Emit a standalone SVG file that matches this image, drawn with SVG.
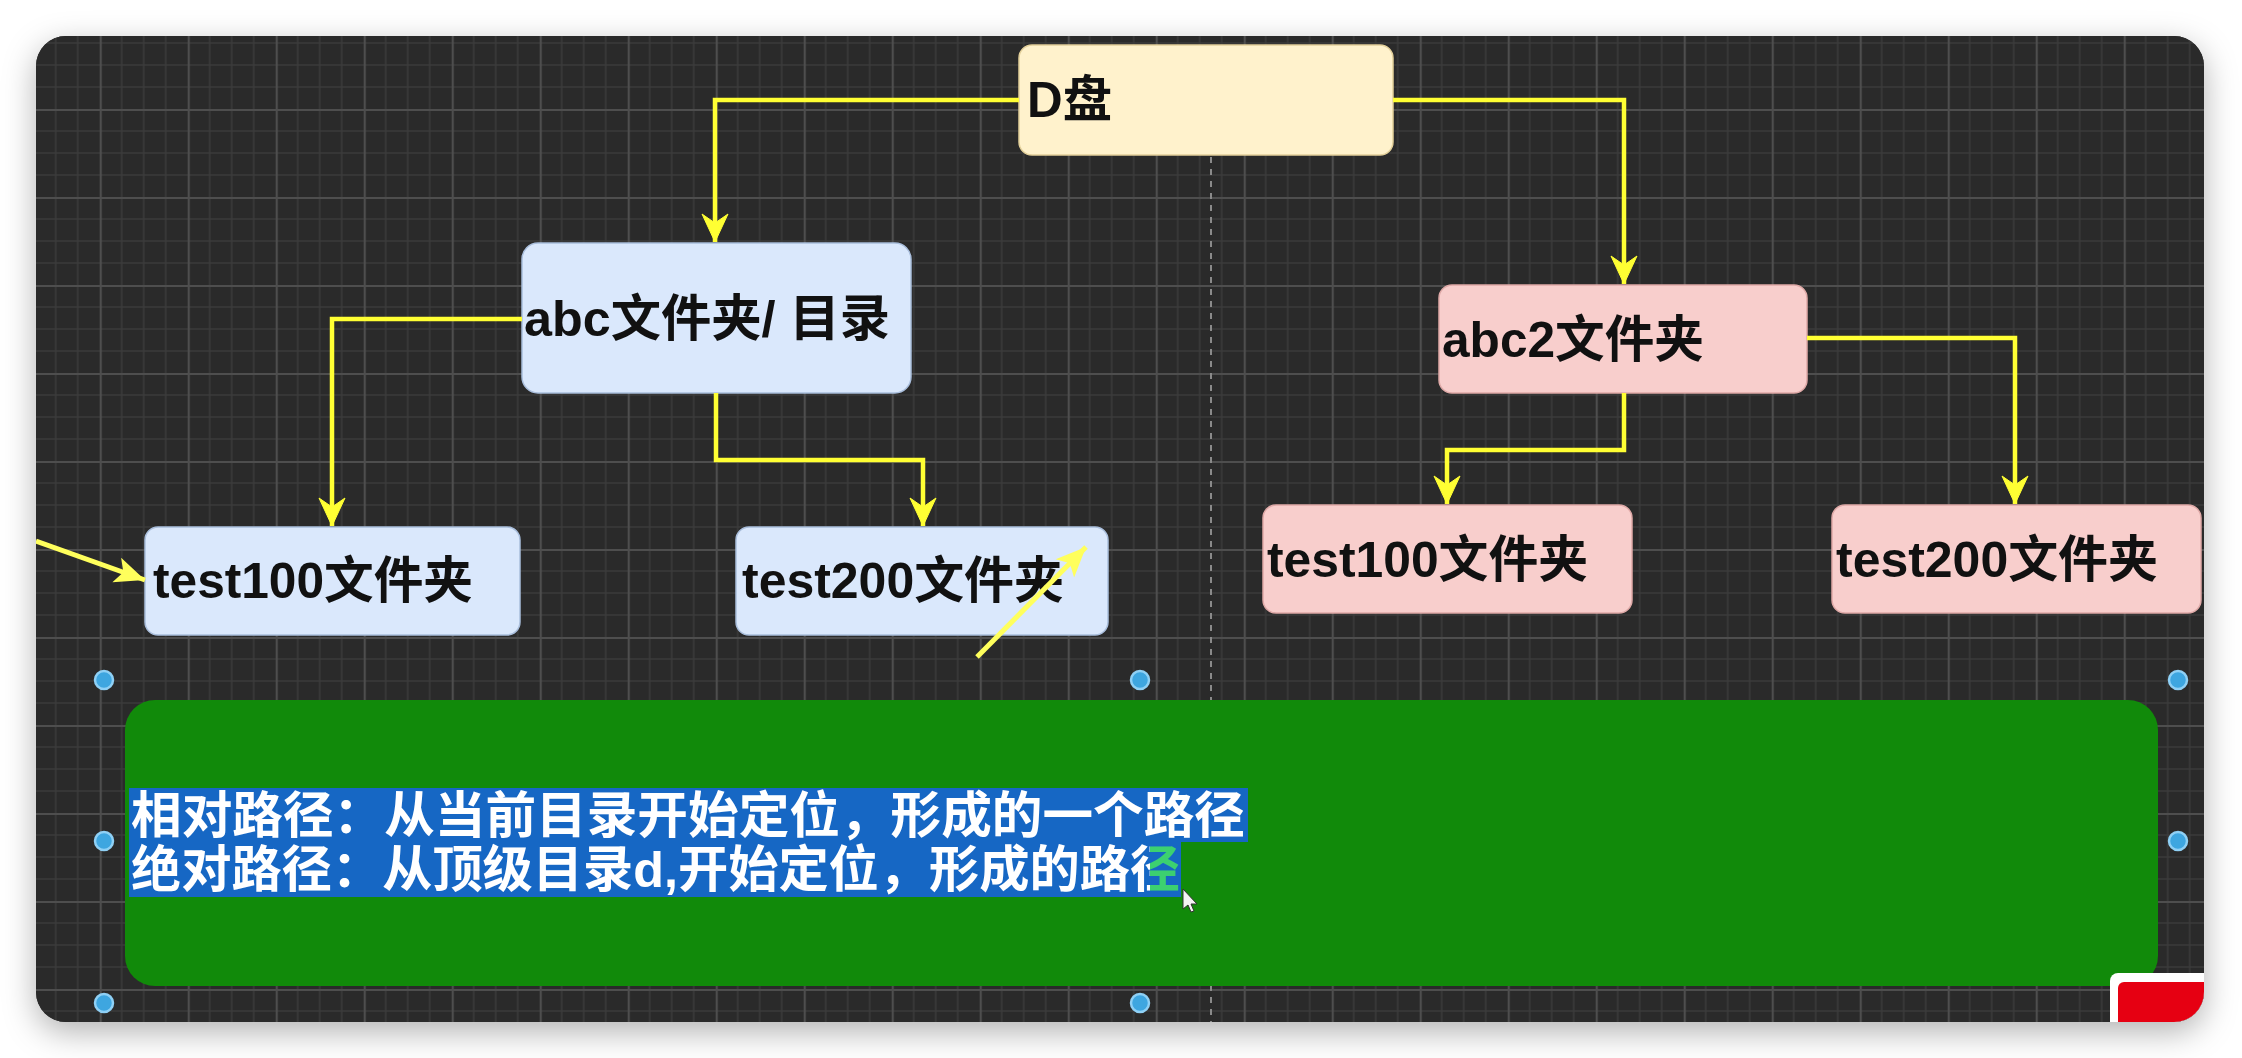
<svg xmlns="http://www.w3.org/2000/svg" width="2242" height="1058" viewBox="0 0 2242 1058">
<defs>
<style>
.node text{font-family:"Liberation Sans","Noto Sans CJK SC",sans-serif;font-weight:700;font-size:50px;fill:#111}
.blue rect{fill:#dae8fc;stroke:#a9bedc;stroke-width:1.5}
.pink rect{fill:#f8cecc;stroke:#dfa9a7;stroke-width:1.5}
.yellow rect{fill:#fff2cc;stroke:#e3d09a;stroke-width:1.5}
.edge{fill:none;stroke:#ffff33;stroke-width:4.5;marker-end:url(#arr)}
.stray{fill:none;stroke:#ffff5c;stroke-width:5;marker-end:url(#arr2)}
.line{font-family:"Liberation Sans","Noto Sans CJK SC",sans-serif;font-weight:700;font-size:50px;fill:#fff}
.hl{fill:#1667c4}
.handle{fill:#3ea6e0;stroke:#8fd0f5;stroke-width:2.5}
</style>
<pattern id="grid" patternUnits="userSpaceOnUse" x="11.7" y="21" width="88" height="88">
<rect width="88" height="88" fill="#2a2a2a"/>
<path d="M22 0V88M44 0V88M66 0V88M0 22H88M0 44H88M0 66H88" stroke="#3a3a3a" stroke-width="1.6"/>
<path d="M1 0V88M0 1H88" stroke="#4e4e4e" stroke-width="2.2"/>
</pattern>
<clipPath id="win"><rect x="36" y="36" width="2168" height="986" rx="30"/></clipPath>
<filter id="shadow" x="-5%" y="-10%" width="110%" height="125%">
<feDropShadow dx="0" dy="10" stdDeviation="16" flood-color="#000" flood-opacity="0.3"/>
</filter>
<marker id="arr" markerUnits="userSpaceOnUse" viewBox="-30 -15 32 30" refX="0" refY="0" markerWidth="32" markerHeight="30" orient="auto">
<path d="M0,0 L-28,-13 L-19,0 L-28,13 Z" fill="#ffff33" stroke="#ffff33" stroke-width="1"/>
</marker>
<marker id="arr2" markerUnits="userSpaceOnUse" viewBox="-32 -16 34 32" refX="0" refY="0" markerWidth="34" markerHeight="32" orient="auto">
<path d="M0,0 L-30,-13 L-23,0 L-30,13 Z" fill="#ffff5c"/>
</marker>
<linearGradient id="lastch" x1="0" y1="0" x2="1" y2="0">
<stop offset="0.4" stop-color="#ffffff"/>
<stop offset="0.4" stop-color="#3cd070"/>
<stop offset="1" stop-color="#3cd070"/>
</linearGradient>
</defs>
<rect width="2242" height="1058" fill="#ffffff"/>
<rect x="36" y="36" width="2168" height="986" rx="30" fill="#2a2a2a" filter="url(#shadow)"/>
<g clip-path="url(#win)">
<rect x="36" y="36" width="2168" height="986" fill="url(#grid)"/>
<line x1="1211" y1="157" x2="1211" y2="1022" stroke="#8a8a8a" stroke-width="2" stroke-dasharray="6 6"/>

<g id="node-d" class="node yellow">
<rect x="1019" y="45" width="374" height="110" rx="13"/>
<text x="1027" y="117" textLength="85" lengthAdjust="spacingAndGlyphs">D盘</text>
</g>
<g id="node-abc" class="node blue">
<rect x="522" y="243" width="389" height="150" rx="16"/>
<text x="524" y="336" textLength="366" lengthAdjust="spacingAndGlyphs">abc文件夹/ 目录</text>
</g>
<g id="node-abc2" class="node pink">
<rect x="1439" y="285" width="368" height="108" rx="13"/>
<text x="1442" y="357" textLength="262" lengthAdjust="spacingAndGlyphs">abc2文件夹</text>
</g>
<g id="node-test100-a" class="node blue">
<rect x="145" y="527" width="375" height="108" rx="13"/>
<text x="153" y="598" textLength="320" lengthAdjust="spacingAndGlyphs">test100文件夹</text>
</g>
<g id="node-test200-a" class="node blue">
<rect x="736" y="527" width="372" height="108" rx="13"/>
<text x="742" y="598" textLength="322" lengthAdjust="spacingAndGlyphs">test200文件夹</text>
</g>
<g id="node-test100-b" class="node pink">
<rect x="1263" y="505" width="369" height="108" rx="13"/>
<text x="1267" y="577" textLength="321" lengthAdjust="spacingAndGlyphs">test100文件夹</text>
</g>
<g id="node-test200-b" class="node pink">
<rect x="1832" y="505" width="369" height="108" rx="13"/>
<text x="1836" y="577" textLength="322" lengthAdjust="spacingAndGlyphs">test200文件夹</text>
</g>

<g id="connectors">
<path class="edge" d="M1019,100 H715 V242"/>
<path class="edge" d="M1393,100 H1624 V284"/>
<path class="edge" d="M522,319 H332 V526"/>
<path class="edge" d="M716,393 V460 H923 V526"/>
<path class="edge" d="M1807,338 H2015 V504"/>
<path class="edge" d="M1624,393 V450 H1447 V504"/>
<path class="stray" d="M36,541 L145,580"/>
<path class="stray" d="M977,657 L1086,547"/>
</g>

<g id="node-note">
<rect x="125" y="700" width="2033" height="286" rx="30" fill="#118a0a"/>
<rect class="hl" x="129" y="788" width="1119" height="54"/>
<rect class="hl" x="129" y="841" width="1052" height="56"/>
<text class="line" x="131" y="833" textLength="1114" lengthAdjust="spacingAndGlyphs">相对路径：从当前目录开始定位，形成的一个路径</text>
<text class="line" x="131" y="887" textLength="999" lengthAdjust="spacingAndGlyphs">绝对路径：从顶级目录d,开始定位，形成的路</text>
<text class="line" x="1130" y="887" style="fill:url(#lastch)">径</text>
</g>

<g id="handles">
<circle class="handle" cx="104" cy="680" r="9"/>
<circle class="handle" cx="1140" cy="680" r="9"/>
<circle class="handle" cx="2178" cy="680" r="9"/>
<circle class="handle" cx="104" cy="841" r="9"/>
<circle class="handle" cx="2178" cy="841" r="9"/>
<circle class="handle" cx="104" cy="1003" r="9"/>
<circle class="handle" cx="1140" cy="1003" r="9"/>
</g>

<polygon points="1183,889 1183,909 1188,905 1191,912 1194,911 1191,904 1197,904" fill="#f4f4f4" stroke="#333" stroke-width="1"/>

<g id="badge">
<rect x="2110" y="973" width="130" height="80" rx="8" fill="#fff"/>
<rect x="2118" y="982" width="120" height="70" rx="6" fill="#e60012"/>
</g>
</g>
</svg>
